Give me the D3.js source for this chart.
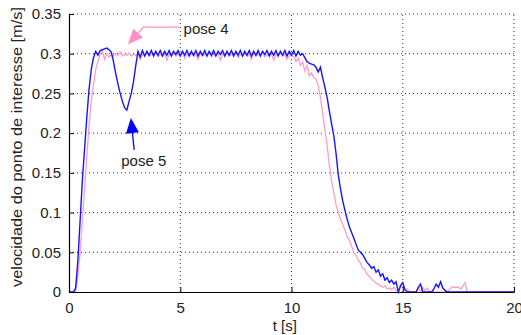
<!DOCTYPE html>
<head>
  <meta charset="utf-8">
  <script src="https://d3js.org/d3.v7.min.js"></script>
  <style>
    body { margin:0; background:#fff; }
    text { font-family: "Liberation Sans", Arial, sans-serif; }
  </style>
</head>
<body>
<script>
var width = 521, height = 335;
var margin = {top: 14, right: 7, bottom: 43, left: 69};

// samples every 0.1 s, from t = 0 to t = 20
var dt = 0.1;
var xTicks = [0, 5, 10, 15, 20];
var yTicks = [0, 0.05, 0.1, 0.15, 0.2, 0.25, 0.3, 0.35];

var blue = [
  0, 0, 0, 0.005, 0.04, 0.09, 0.14, 0.18, 0.22, 0.255,
  0.28, 0.295, 0.303, 0.298, 0.304, 0.305, 0.306, 0.307, 0.305, 0.302,
  0.29, 0.275, 0.262, 0.25, 0.24, 0.232, 0.229, 0.24, 0.25, 0.265,
  0.285, 0.303, 0.296, 0.304, 0.297, 0.303, 0.298, 0.304, 0.297, 0.303,
  0.298, 0.304, 0.297, 0.303, 0.298, 0.304, 0.297, 0.303, 0.299, 0.304,
  0.297, 0.303, 0.298, 0.304, 0.297, 0.303, 0.298, 0.304, 0.297, 0.303,
  0.298, 0.304, 0.297, 0.303, 0.298, 0.304, 0.297, 0.303, 0.299, 0.304,
  0.297, 0.303, 0.298, 0.304, 0.297, 0.303, 0.298, 0.304, 0.297, 0.303,
  0.298, 0.304, 0.297, 0.303, 0.298, 0.304, 0.297, 0.303, 0.299, 0.304,
  0.297, 0.303, 0.298, 0.304, 0.297, 0.303, 0.298, 0.304, 0.297, 0.303,
  0.298, 0.304, 0.297, 0.303, 0.298, 0.300, 0.295, 0.290, 0.288, 0.287,
  0.286, 0.283, 0.277, 0.283, 0.270, 0.258, 0.245, 0.228, 0.212, 0.197,
  0.175, 0.148, 0.130, 0.115, 0.103, 0.092, 0.082, 0.075, 0.068, 0.060,
  0.053, 0.050, 0.047, 0.042, 0.037, 0.034, 0.030, 0.032, 0.025, 0.028,
  0.020, 0.023, 0.015, 0.018, 0.012, 0.015, 0.010, 0.013, 0, 0.008,
  0.012, 0.003, 0, 0, 0, 0, 0, 0.006, 0.010, 0,
  0, 0, 0, 0, 0.004, 0.010, 0.006, 0.013, 0.005, 0.002,
  0, 0, 0, 0, 0, 0, 0, 0, 0, 0,
  0, 0, 0, 0, 0, 0, 0, 0, 0, 0,
  0, 0, 0, 0, 0, 0, 0, 0, 0, 0,
  0
];

var pink = [
  0, 0, 0, 0, 0.02, 0.05, 0.09, 0.13, 0.17, 0.21,
  0.24, 0.26, 0.28, 0.29, 0.30, 0.303, 0.293, 0.30, 0.296, 0.299,
  0.297, 0.300, 0.298, 0.302, 0.297, 0.299, 0.298, 0.301, 0.297, 0.299,
  0.298, 0.300, 0.293, 0.299, 0.298, 0.301, 0.297, 0.299, 0.298, 0.302,
  0.296, 0.299, 0.298, 0.300, 0.292, 0.299, 0.298, 0.301, 0.297, 0.299,
  0.298, 0.302, 0.294, 0.299, 0.298, 0.300, 0.297, 0.299, 0.293, 0.301,
  0.297, 0.299, 0.298, 0.302, 0.296, 0.299, 0.298, 0.300, 0.292, 0.299,
  0.298, 0.301, 0.297, 0.299, 0.298, 0.302, 0.295, 0.299, 0.298, 0.300,
  0.297, 0.299, 0.293, 0.301, 0.297, 0.299, 0.298, 0.302, 0.296, 0.299,
  0.298, 0.300, 0.292, 0.299, 0.298, 0.301, 0.297, 0.299, 0.293, 0.297,
  0.298, 0.296, 0.290, 0.295, 0.285, 0.290, 0.278, 0.285, 0.272, 0.276,
  0.270, 0.268, 0.260, 0.245, 0.225, 0.205, 0.185, 0.160, 0.140, 0.125,
  0.110, 0.100, 0.092, 0.085, 0.078, 0.070, 0.065, 0.058, 0.050, 0.046,
  0.040, 0.036, 0.030, 0.028, 0.022, 0.020, 0.016, 0.014, 0.011, 0.010,
  0.008, 0.006, 0.008, 0.004, 0.005, 0.003, 0.006, 0.002, 0, 0.006,
  0.008, 0.002, 0.004, 0, 0, 0, 0, 0.006, 0, 0.006,
  0.002, 0.005, 0, 0, 0, 0, 0, 0, 0, 0,
  0, 0.003, 0.006, 0.006, 0.006, 0.006, 0.004, 0.007, 0.012, 0,
  0, 0, 0, 0, 0, 0, 0, 0, 0, 0,
  0, 0, 0, 0, 0, 0, 0, 0, 0, 0,
  0
];

// annotations: label, text position, arrow path (tail .. tip) in data units, colour
var notes = [
  {label: "pose 4", at: [5.15, 0.325], path: [[4.95, 0.3335], [3.35, 0.3335], [2.65, 0.312]], color: "#ff8fc0"},
  {label: "pose 5", at: [2.35, 0.159], path: [[2.93, 0.179], [2.78, 0.219]], color: "#0000ff"}
];

var svg = d3.select("body").append("svg")
  .attr("width", width).attr("height", height);

var x = d3.scaleLinear().domain([0, 20]).range([margin.left, width - margin.right]);
var y = d3.scaleLinear().domain([0, 0.35]).range([height - margin.bottom, margin.top]);

// grid
svg.append("g").selectAll("line").data(xTicks.slice(1)).enter().append("line")
  .attr("x1", function(d) { return x(d); }).attr("x2", function(d) { return x(d); })
  .attr("y1", y(0)).attr("y2", y(0.35))
  .attr("stroke", "#333").attr("stroke-width", 1).attr("stroke-dasharray", "1,3");
svg.append("g").selectAll("line").data(yTicks.slice(1)).enter().append("line")
  .attr("y1", function(d) { return y(d); }).attr("y2", function(d) { return y(d); })
  .attr("x1", x(0)).attr("x2", x(20))
  .attr("stroke", "#333").attr("stroke-width", 1).attr("stroke-dasharray", "1,3");

var line = d3.line()
  .x(function(d, i) { return x(i * dt); })
  .y(function(d) { return y(d); });

svg.append("path").datum(pink)
  .attr("d", line).attr("fill", "none")
  .attr("stroke", "#ff9ccb").attr("stroke-width", 1.3);
svg.append("path").datum(blue)
  .attr("d", line).attr("fill", "none")
  .attr("stroke", "#1414ff").attr("stroke-width", 1.4);

// axes (matlab style, ticks inward)
var xAxis = svg.append("g").attr("transform", "translate(0," + y(0) + ")")
  .call(d3.axisBottom(x).tickValues(xTicks).tickSizeInner(-5).tickSizeOuter(0).tickPadding(10));
var yAxis = svg.append("g").attr("transform", "translate(" + x(0) + ",0)")
  .call(d3.axisLeft(y).tickValues(yTicks).tickSizeInner(-5).tickSizeOuter(0).tickPadding(8)
    .tickFormat(function(d) { return d === 0 ? "0" : d3.format("")(+d.toFixed(2)); }));
[xAxis, yAxis].forEach(function(a) {
  a.select(".domain").attr("stroke", "#000").attr("stroke-width", 1.2);
  a.selectAll(".tick text").attr("font-size", 15).attr("fill", "#222")
    .attr("font-family", "Liberation Sans, Arial, sans-serif");
  a.selectAll(".tick line").attr("stroke", "#000");
});
xAxis.selectAll(".tick text").attr("dy", "0.72em");

svg.append("text").attr("x", x(9.7)).attr("y", 331)
  .attr("text-anchor", "middle").attr("font-size", 15).attr("fill", "#222").text("t [s]");
svg.append("text")
  .attr("transform", "translate(22," + 147 + ") rotate(-90)")
  .attr("text-anchor", "middle").attr("font-size", 15).attr("fill", "#222")
  .attr("textLength", 280).attr("lengthAdjust", "spacingAndGlyphs")
  .text("velocidade do ponto de interesse [m/s]");

// annotation arrows
notes.forEach(function(n) {
  var pts = n.path.map(function(p) { return [x(p[0]), y(p[1])]; });
  var a = pts[pts.length - 2], tip = pts[pts.length - 1];
  var ang = Math.atan2(tip[1] - a[1], tip[0] - a[0]);
  var L = 15, W = 6.5;
  var bx = tip[0] - L * Math.cos(ang), by = tip[1] - L * Math.sin(ang);
  var shaft = pts.slice(0, -1).concat([[bx, by]]);
  svg.append("path").attr("d", d3.line()(shaft)).attr("fill", "none")
    .attr("stroke", n.color).attr("stroke-width", 1.3);
  var px = -Math.sin(ang) * W, py = Math.cos(ang) * W;
  svg.append("path")
    .attr("d", "M" + tip[0] + "," + tip[1] + "L" + (bx + px) + "," + (by + py) + "L" + (bx - px) + "," + (by - py) + "Z")
    .attr("fill", n.color);
  svg.append("text").attr("x", x(n.at[0])).attr("y", y(n.at[1]))
    .attr("font-size", 15).attr("fill", "#222").text(n.label);
});
</script>
</body>
